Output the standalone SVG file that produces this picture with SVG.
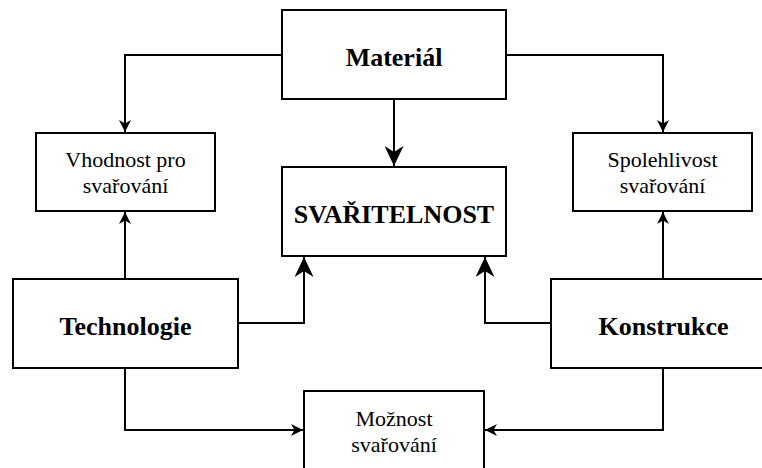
<svg xmlns="http://www.w3.org/2000/svg" width="762" height="468" viewBox="0 0 762 468">
<style>
.box{fill:#fff;stroke:#000;stroke-width:2}
.t{font-family:"Liberation Serif","Times New Roman",serif;fill:#000;text-anchor:middle}
.b{font-size:26px;font-weight:bold}
.r{font-size:22px}
.c{fill:none;stroke:#000;stroke-width:2}
</style>
<defs>
<marker id="s" viewBox="-12 -6 12 12" markerWidth="12" markerHeight="12" refX="0" refY="0" markerUnits="userSpaceOnUse" orient="auto">
<path d="M0,0 L-12,-6 L-8.5,0 L-12,6 Z" fill="#000"/>
</marker>
<marker id="l" viewBox="-20 -9.5 20 19" markerWidth="20" markerHeight="19" refX="0" refY="0" markerUnits="userSpaceOnUse" orient="auto">
<path d="M0,0 L-20,-9.5 L-14,0 L-20,9.5 Z" fill="#000"/>
</marker>
</defs>
<rect width="762" height="468" fill="#fff"/>
<g id="connectors">
<path class="c" d="M282,55 H125 V132" marker-end="url(#s)"/>
<path class="c" d="M506,55 H663 V132" marker-end="url(#s)"/>
<path class="c" d="M394,99 V166" marker-end="url(#l)"/>
<path class="c" d="M125,279 V212" marker-end="url(#s)"/>
<path class="c" d="M663,279 V212" marker-end="url(#s)"/>
<path class="c" d="M238,323 H304 V257" marker-end="url(#l)"/>
<path class="c" d="M551,323 H485 V257" marker-end="url(#l)"/>
<path class="c" d="M125,368 V430 H303" marker-end="url(#s)"/>
<path class="c" d="M663,368 V430 H485" marker-end="url(#s)"/>
</g>
<g id="material">
<rect class="box" x="282" y="10" width="224" height="89"/>
<text class="t b" x="394" y="66">Materiál</text>
</g>
<g id="svaritelnost">
<rect class="box" x="282" y="167" width="224" height="89"/>
<text class="t b" x="394" y="223">SVAŘITELNOST</text>
</g>
<g id="vhodnost">
<rect class="box" x="36" y="133" width="179" height="78"/>
<text class="t r" x="125.5" y="167">Vhodnost pro</text>
<text class="t r" x="125.5" y="193">svařování</text>
</g>
<g id="spolehlivost">
<rect class="box" x="573" y="133" width="179" height="78"/>
<text class="t r" x="662.5" y="167">Spolehlivost</text>
<text class="t r" x="662.5" y="193">svařování</text>
</g>
<g id="technologie">
<rect class="box" x="13" y="279" width="225" height="89"/>
<text class="t b" x="125.5" y="335">Technologie</text>
</g>
<g id="konstrukce">
<rect class="box" x="551" y="279" width="225" height="89"/>
<text class="t b" x="663.5" y="335">Konstrukce</text>
</g>
<g id="moznost">
<rect class="box" x="304" y="391" width="180" height="78"/>
<text class="t r" x="394" y="426">Možnost</text>
<text class="t r" x="394" y="452">svařování</text>
</g>
</svg>
